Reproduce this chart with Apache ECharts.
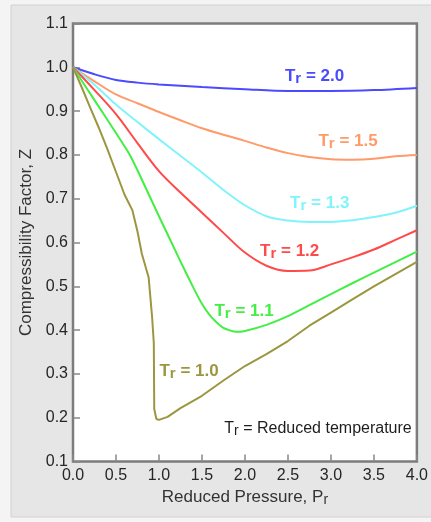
<!DOCTYPE html>
<html>
<head>
<meta charset="utf-8">
<script src="https://cdn.jsdelivr.net/npm/echarts@6/dist/echarts.min.js"></script>
<style>
  html, body { margin: 0; padding: 0; background: #f4f4f4; }
  #chart { width: 431px; height: 522px; }
</style>
</head>
<body>
<div id="chart"></div>
<script>
// Generalized compressibility chart: Z versus reduced pressure for several reduced temperatures

const xTicks = ['0.0', '0.5', '1.0', '1.5', '2.0', '2.5', '3.0', '3.5', '4.0'];
const yTicks = ['0.1', '0.2', '0.3', '0.4', '0.5', '0.6', '0.7', '0.8', '0.9', '1.0', '1.1'];

const temps = ['2.0', '1.5', '1.3', '1.2', '1.1', '1.0'];

const prTr20 = [0, 0.25, 0.5, 0.75, 1.0, 1.5, 2.0, 2.5, 3.0, 3.5, 4.0];
const zTr20 = [1.0, 0.984, 0.971, 0.965, 0.961, 0.955, 0.950, 0.946, 0.946, 0.948, 0.953];

const prGrid = [0, 0.25, 0.5, 0.75, 1.0, 1.25, 1.5, 1.75, 2.0, 2.25, 2.5, 2.75, 3.0, 3.25, 3.5, 3.75, 4.0];
const zTr15 = [1.0, 0.968, 0.938, 0.918, 0.898, 0.879, 0.861, 0.846, 0.832, 0.817, 0.804, 0.795, 0.790, 0.789, 0.791, 0.797, 0.800];
const zTr13 = [1.0, 0.960, 0.915, 0.875, 0.836, 0.798, 0.760, 0.720, 0.685, 0.660, 0.650, 0.647, 0.647, 0.651, 0.658, 0.668, 0.684];
const zTr12 = [1.0, 0.948, 0.893, 0.827, 0.763, 0.714, 0.668, 0.622, 0.577, 0.547, 0.535, 0.536, 0.550, 0.566, 0.584, 0.606, 0.628];

const prTr11 = [0, 0.25, 0.5, 0.65, 0.75, 1.0, 1.25, 1.4, 1.5, 1.6, 1.75, 1.9, 2.0, 2.25, 2.5, 2.75, 3.0, 3.25, 3.5, 3.75, 4.0];
const zTr11 = [1.0, 0.925, 0.850, 0.804, 0.765, 0.660, 0.557, 0.497, 0.460, 0.432, 0.405, 0.396, 0.398, 0.412, 0.432, 0.457, 0.482, 0.507, 0.531, 0.555, 0.579];

const prTr10 = [0, 0.1, 0.2, 0.3, 0.4, 0.5, 0.6, 0.69, 0.75, 0.8, 0.88, 0.92, 0.94, 0.945, 0.97, 1.0, 1.1, 1.25, 1.5, 1.75, 2.0, 2.25, 2.5, 2.75, 3.0, 3.25, 3.5, 3.75, 4.0];
const zTr10 = [1.0, 0.955, 0.908, 0.862, 0.813, 0.761, 0.709, 0.674, 0.625, 0.575, 0.520, 0.430, 0.370, 0.220, 0.197, 0.195, 0.202, 0.222, 0.250, 0.285, 0.318, 0.345, 0.375, 0.410, 0.440, 0.470, 0.500, 0.528, 0.556];

const FONT = '"Liberation Sans", Arial, sans-serif';

function pairs(xs, ys) {
  return xs.map((x, i) => [x, ys[i]]);
}

// Curve label "T_r = value" with a dropped subscript r, centred on a data coordinate
function curveLabel(text, color, coord) {
  return {
    symbol: 'circle',
    symbolSize: 0,
    silent: true,
    label: {
      show: true,
      position: 'inside',
      formatter: '{t|T}{s|r}{t| = ' + text + '}',
      rich: {
        t: { fontFamily: FONT, fontSize: 17, fontWeight: 'bold', color: color, lineHeight: 20 },
        s: { fontFamily: FONT, fontSize: 15, fontWeight: 'bold', color: color, lineHeight: 9, verticalAlign: 'bottom' }
      }
    },
    data: [{ coord: coord }]
  };
}

function curve(name, data, color, smooth, labelCoord, extra) {
  const s = {
    name: name,
    type: 'line',
    data: data,
    showSymbol: false,
    smooth: smooth,
    lineStyle: { color: color, width: 2 },
    itemStyle: { color: color },
    markPoint: curveLabel(name, color, labelCoord)
  };
  if (extra) s.markPoint.data.push(extra);
  return s;
}

const chart = echarts.init(document.getElementById('chart'), null, { renderer: 'canvas' });

chart.setOption({
  animation: false,
  backgroundColor: '#f4f4f4',
  graphic: [{
    type: 'rect',
    z: -10,
    shape: { x: 11, y: 5, width: 430, height: 512 },
    style: { fill: '#e6e6e6', stroke: '#d2d2d2', lineWidth: 1 }
  }],
  grid: {
    left: 73, right: 8, top: 23.5, bottom: 60.5,
    show: true,
    backgroundColor: '#ffffff',
    borderColor: '#7c7c7c',
    borderWidth: 2.5
  },
  xAxis: {
    type: 'value',
    min: 0, max: 4, interval: 0.5,
    name: '{n|Reduced Pressure, P}{s|r}',
    nameLocation: 'middle',
    nameGap: 25,
    nameTextStyle: {
      rich: {
        n: { fontFamily: FONT, fontSize: 17, color: '#333', lineHeight: 20 },
        s: { fontFamily: FONT, fontSize: 14, color: '#333', lineHeight: 8, verticalAlign: 'bottom' }
      }
    },
    axisLine: { show: false },
    axisTick: { show: true, inside: true, length: 7, lineStyle: { color: '#888', width: 1.5 } },
    axisLabel: {
      margin: 6, fontFamily: FONT, fontSize: 16, color: '#262626',
      formatter: (v) => xTicks[Math.round(v / 0.5)]
    },
    splitLine: { show: false }
  },
  yAxis: {
    type: 'value',
    min: 0.1, max: 1.1, interval: 0.1,
    name: 'Compressibility Factor, Z',
    nameLocation: 'middle',
    nameGap: 27,
    nameTextStyle: { fontFamily: FONT, fontSize: 17, color: '#333' },
    axisLine: { show: false },
    axisTick: { show: true, inside: true, length: 7, lineStyle: { color: '#888', width: 1.5 } },
    axisLabel: {
      margin: 5, fontFamily: FONT, fontSize: 16, color: '#262626',
      formatter: (v) => yTicks[Math.round((v - 0.1) / 0.1)]
    },
    splitLine: { show: false }
  },
  series: [
    curve(temps[0], pairs(prTr20, zTr20), '#4a4aff', 0.3, [2.81, 0.98]),
    curve(temps[1], pairs(prGrid, zTr15), '#ff9a6a', 0.35, [3.20, 0.830]),
    curve(temps[2], pairs(prGrid, zTr13), '#80f4fa', 0.35, [2.87, 0.690]),
    curve(temps[3], pairs(prGrid, zTr12), '#ff4a4a', 0.35, [2.52, 0.579]),
    curve(temps[4], pairs(prTr11, zTr11), '#44ee44', 0.2, [1.99, 0.443]),
    curve(temps[5], pairs(prTr10, zTr10), '#9c9640', false, [1.35, 0.306], {
      coord: [2.85, 0.174],
      label: {
        formatter: '{t|T}{s|r}{t| = Reduced temperature}',
        rich: {
          t: { fontFamily: FONT, fontSize: 16, fontWeight: 'normal', color: '#1e1e1e', lineHeight: 18 },
          s: { fontFamily: FONT, fontSize: 14, fontWeight: 'normal', color: '#1e1e1e', lineHeight: 8, verticalAlign: 'bottom' }
        }
      }
    })
  ]
});
</script>
</body>
</html>
